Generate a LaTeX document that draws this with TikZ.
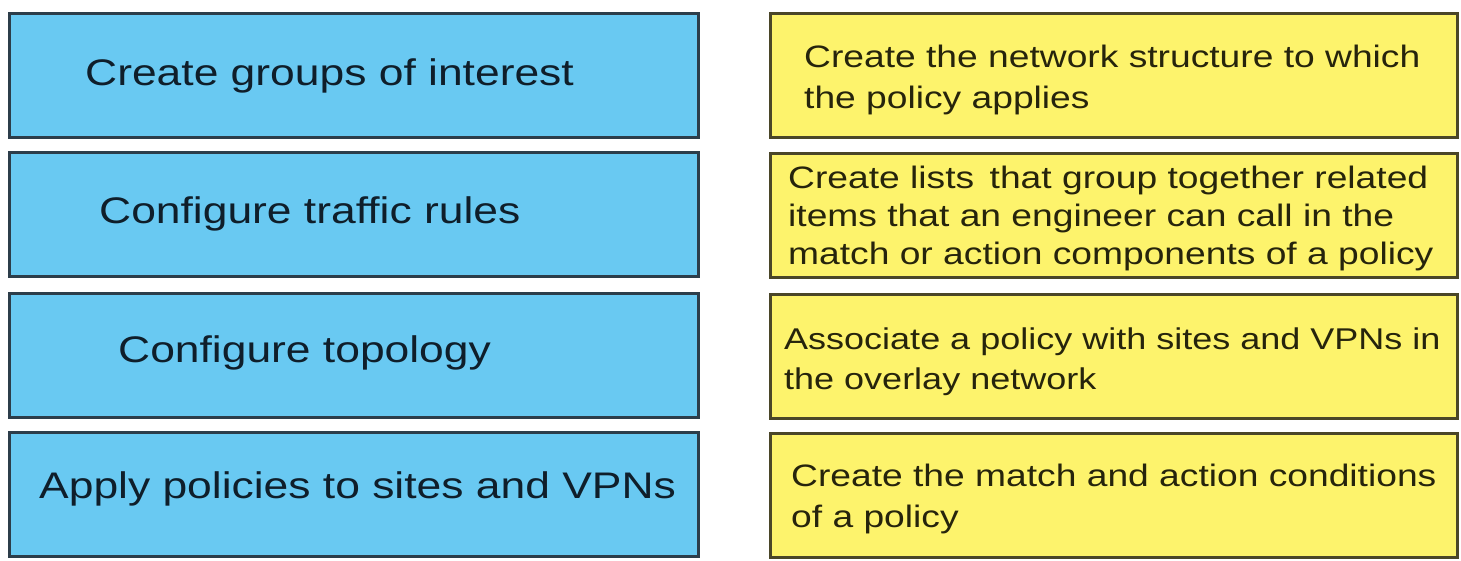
\documentclass[tikz,border=0pt]{standalone}
\usepackage{fontspec}
\setmainfont[FakeStretch=1.2]{Liberation Sans}
\usepackage{xcolor}
\usepackage{tikz}
\usetikzlibrary{positioning}

\definecolor{stepblue}{HTML}{69C9F2}
\definecolor{descyellow}{HTML}{FDF36C}
\definecolor{blueedge}{HTML}{2C3D4A}
\definecolor{yellowedge}{HTML}{4A4628}
\definecolor{bluetext}{HTML}{0F1E2A}
\definecolor{yellowtext}{HTML}{26240C}

\begin{document}
\begin{tikzpicture}[x=1pt, y=-1pt,
      stepbox/.style={rectangle, draw=blueedge, fill=stepblue, line width=3pt, anchor=north west, minimum width=689pt, minimum height=124pt, inner sep=0pt},
      descbox/.style={rectangle, draw=yellowedge, fill=descyellow, line width=3pt, anchor=north west, minimum width=687pt, minimum height=124pt, inner sep=0pt},
      steptext/.style={anchor=base west, inner sep=0pt, text=bluetext, font=\fontsize{37}{44}\selectfont},
      desctext/.style={anchor=base west, inner sep=0pt, text=yellowtext, align=left, font=\fontsize{31}{41}\selectfont}
    ]
    \useasboundingbox (0,0) rectangle (1461,560);

    % Steps
    \node[stepbox] (s1) at (8,12) {};
    \node[stepbox] (s2) at (8,151) {};
    \node[stepbox] (s3) at (8,292) {};
    \node[stepbox] (s4) at (8,431) {};

    \node[steptext] (t1) at (85,85) {Create groups of interest};
    \node[steptext] (t2) at (99,223) {Configure traffic rules};
    \node[steptext] (t3) at (118,362) {Configure topology};
    \node[steptext] (t4) at (39,498) {Apply policies to sites and VPNs};

    % Descriptions (base = last line)
    \node[descbox] (d1) at (769,12) {};
    \node[descbox] (d2) at (769,152) {};
    \node[descbox] (d3) at (769,293) {};
    \node[descbox] (d4) at (769,432) {};

    \node[desctext] (e1) at (804,108) {Create the network structure to which\\the policy applies};
    \node[desctext, font=\fontsize{31}{38}\selectfont] (e2) at (788,264) {Create lists\, that group together related\\items that an engineer can call in the\\match or action components of a policy};
    \node[desctext, font=\fontsize{30}{40}\selectfont] (e3) at (784,389) {Associate a policy with sites and VPNs in\\the overlay network};
    \node[desctext] (e4) at (791,527) {Create the match and action conditions\\of a policy};
  \end{tikzpicture}
\end{document}
